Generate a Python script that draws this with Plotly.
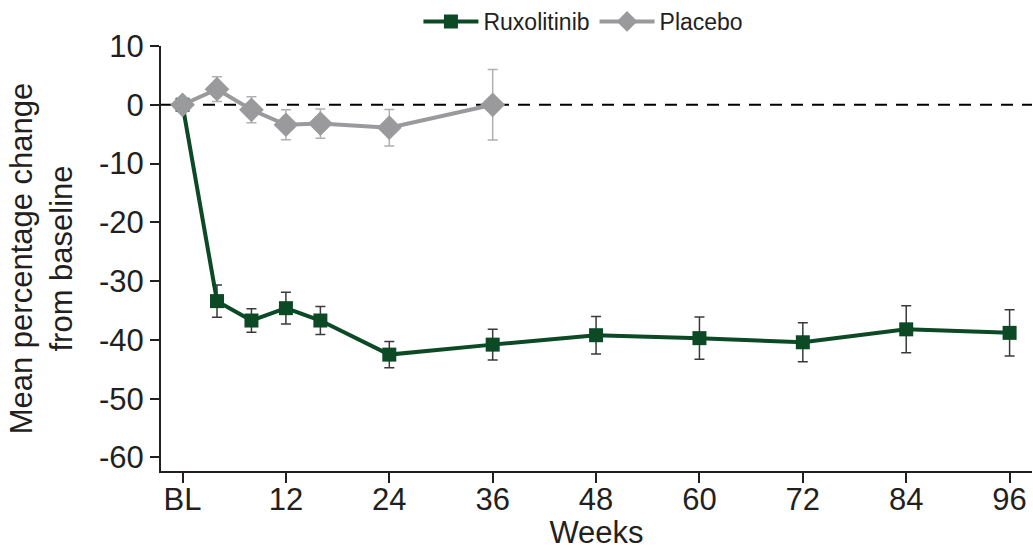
import plotly.graph_objects as go

# Data
weeks_rux = [0, 4, 8, 12, 16, 24, 36, 48, 60, 72, 84, 96]
rux_mean = [0, -33.4, -36.7, -34.6, -36.7, -42.5, -40.8, -39.2, -39.7, -40.4, -38.2, -38.8]
rux_err = [0, 2.75, 2.0, 2.7, 2.4, 2.25, 2.6, 3.2, 3.6, 3.3, 4.0, 3.95]

weeks_pbo = [0, 4, 8, 12, 16, 24, 36]
pbo_mean = [0, 2.65, -0.85, -3.4, -3.2, -3.9, 0]
pbo_err = [0, 2.1, 2.2, 2.55, 2.5, 3.1, 6.0]

x_tickvals = [0, 12, 24, 36, 48, 60, 72, 84, 96]
x_ticktext = ["BL", "12", "24", "36", "48", "60", "72", "84", "96"]
y_tickvals = [10, 0, -10, -20, -30, -40, -50, -60]
y_ticktext = ["10", "0", "-10", "-20", "-30", "-40", "-50", "-60"]

GREEN = "#0b4a24"
GRAY = "#9a9a9d"
FONT = "Liberation Sans, Arial, sans-serif"
AX = "#231f20"

fig = go.Figure()

fig.add_trace(go.Scatter(
    x=weeks_rux, y=rux_mean, name="Ruxolitinib", mode="lines+markers",
    line=dict(color=GREEN, width=4),
    marker=dict(symbol="square", size=14, color=GREEN),
    error_y=dict(type="data", array=rux_err, visible=True, color="#3a3a3a",
                 thickness=1.5, width=5),
))
fig.add_trace(go.Scatter(
    x=weeks_pbo, y=pbo_mean, name="Placebo", mode="lines+markers",
    line=dict(color=GRAY, width=4),
    marker=dict(symbol="diamond", size=19, color=GRAY),
    error_y=dict(type="data", array=pbo_err, visible=True, color="#b0b0b2",
                 thickness=1.5, width=5),
))

fig.add_shape(type="line", xref="paper", x0=0, x1=1, yref="y", y0=0, y1=0,
              line=dict(color="black", width=2, dash="12px,9px"), layer="below")

fig.update_layout(
    width=1033, height=550,
    margin=dict(l=161, r=1, t=45, b=79),
    paper_bgcolor="white", plot_bgcolor="white",
    font=dict(family=FONT, color=AX),
    showlegend=True,
    legend=dict(orientation="h", x=0.485, xanchor="center", y=1.056, yanchor="middle",
                font=dict(size=23, family=FONT, color=AX), bgcolor="rgba(0,0,0,0)",
                itemwidth=55, tracegroupgap=0),
    xaxis=dict(
        range=[-2.5, 98.6], tickvals=x_tickvals, ticktext=x_ticktext,
        showgrid=False, zeroline=False, showline=True, linecolor=AX, linewidth=2,
        ticks="outside", ticklen=10, tickwidth=2, tickcolor=AX,
        ticklabelstandoff=-10,
        tickfont=dict(size=31, family=FONT, color=AX),
        title=dict(text="Weeks", font=dict(size=31, family=FONT, color=AX), standoff=3),
    ),
    yaxis=dict(
        range=[-62.3, 10], tickvals=y_tickvals, ticktext=y_ticktext,
        showgrid=False, zeroline=False, showline=True, linecolor=AX, linewidth=2,
        ticks="outside", ticklen=9, tickwidth=2, tickcolor=AX,
        tickfont=dict(size=31, family=FONT, color=AX),
        title=dict(text="Mean percentage change<br>from baseline",
                   font=dict(size=31, family=FONT, color=AX), standoff=17),
    ),
)

fig.write_html("out.html")
